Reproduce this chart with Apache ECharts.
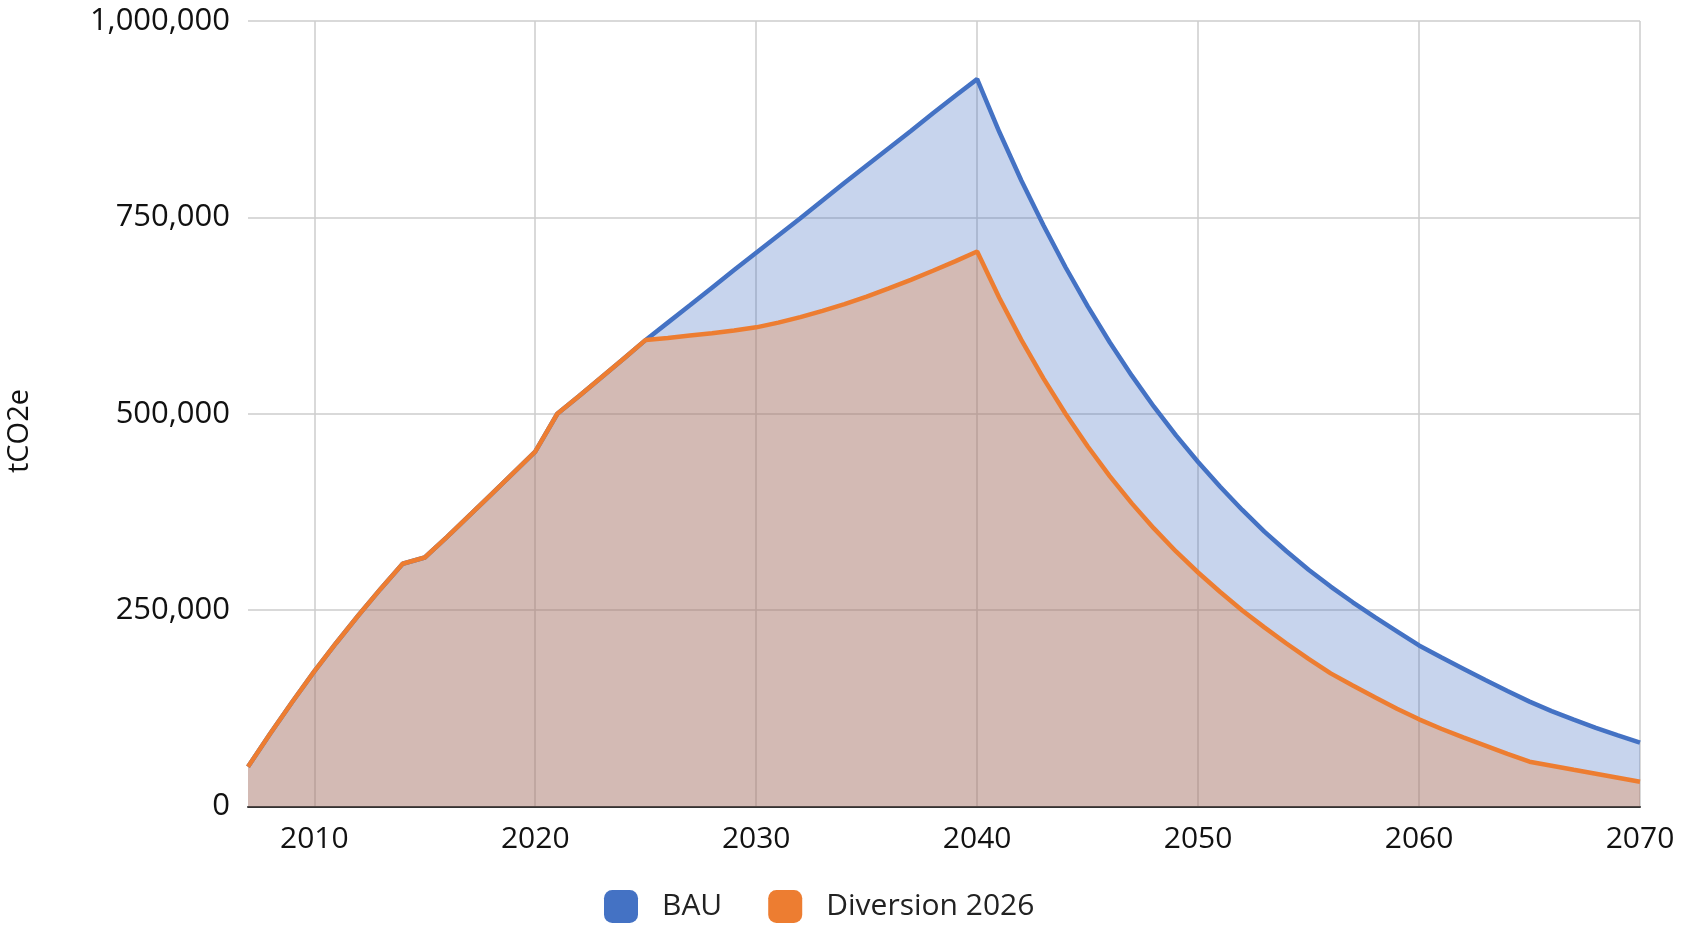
<!DOCTYPE html>
<html>
<head>
<meta charset="utf-8">
<script src="https://cdn.jsdelivr.net/npm/echarts@6/dist/echarts.min.js"></script>
<style>
html,body{margin:0;padding:0;background:#fff;}
#chart{width:1691px;height:930px;}
</style>
</head>
<body>
<div id="chart"></div>
<script>
const years = ['2007','2008','2009','2010','2011','2012','2013','2014','2015','2016',
  '2017','2018','2019','2020','2021','2022','2023','2024','2025','2026',
  '2027','2028','2029','2030','2031','2032','2033','2034','2035','2036',
  '2037','2038','2039','2040','2041','2042','2043','2044','2045','2046',
  '2047','2048','2049','2050','2051','2052','2053','2054','2055','2056',
  '2057','2058','2059','2060','2061','2062','2063','2064','2065','2066',
  '2067','2068','2069','2070'];

const bau = [50700,92500,133000,172000,208500,243500,277000,309000,317000,343000,
  370000,397000,424500,451700,500000,523000,546500,570000,594000,616000,
  638000,660500,683000,705000,727000,749000,771500,794000,816000,838000,
  860000,882500,904500,926000,859000,797000,740000,686500,637000,591000,
  548500,509000,472500,438500,407000,377500,350000,325000,301500,280000,
  260000,241000,223000,205000,190000,175500,161000,147000,133500,121500,
  110500,100000,90500,81300];

const diversion2026 = [50700,92500,133000,172000,208500,243500,277000,309000,317000,343000,
  370000,397000,424500,451700,500000,523000,546500,570000,594000,596500,
  599500,602500,606000,610000,616000,623000,631000,639500,649000,659500,
  670500,682000,694000,706500,647600,594000,545000,500000,458600,420700,
  385900,354000,324700,297900,273000,249500,228000,207500,188000,169500,
  154000,139000,124500,111000,99000,88000,77500,67000,57000,51900,
  46800,41800,36700,31600];

const yTicks = [0, 250000, 500000, 750000, 1000000];
const seriesNames = ['BAU', 'Diversion 2026'];

const BLUE = '#4472C4', ORANGE = '#ED7D31';
const FONT = '"Open Sans", "Noto Sans", sans-serif';

const chart = echarts.init(document.getElementById('chart'), null, {renderer: 'canvas'});
chart.setOption({
  animation: false,
  backgroundColor: '#fff',
  grid: {left: 248, right: 51, top: 21, bottom: 123.5, containLabel: false},
  xAxis: {
    type: 'category',
    data: years,
    boundaryGap: false,
    axisLine: {show: true, lineStyle: {color: '#333', width: 2}},
    axisTick: {show: false},
    axisLabel: {
      interval: function (i, v) { return Number(v) % 10 === 0; },
      color: '#111', fontFamily: FONT, fontSize: 30, margin: 18
    },
    splitLine: {
      show: true,
      interval: function (i, v) { return Number(v) % 10 === 0; },
      lineStyle: {color: '#cccccc', width: 1.5}
    }
  },
  yAxis: {
    type: 'value',
    min: yTicks[0], max: yTicks[yTicks.length - 1], interval: yTicks[1] - yTicks[0],
    axisLine: {show: false},
    axisTick: {show: false},
    axisLabel: {
      color: '#111', fontFamily: FONT, fontSize: 31, margin: 18,
      formatter: function (v) { return v.toLocaleString('en-US'); }
    },
    splitLine: {lineStyle: {color: '#cccccc', width: 1.5}}
  },
  legend: {
    data: [{name: seriesNames[0], icon: 'roundRect'}, {name: seriesNames[1], icon: 'roundRect'}],
    left: 599, top: 885,
    itemWidth: 34, itemHeight: 33, itemGap: 46,
    textStyle: {color: '#222', fontFamily: FONT, fontSize: 30, padding: [0, 0, 0, 19]}
  },
  graphic: [{
    type: 'text', left: 5, top: 389,
    rotation: Math.PI / 2,
    style: {text: 'tCO2e', fill: '#111', font: '29px ' + FONT}
  }],
  series: [
    {
      name: seriesNames[0], type: 'line', data: bau, showSymbol: false, symbol: 'none',
      itemStyle: {color: BLUE},
      lineStyle: {color: BLUE, width: 4.5},
      areaStyle: {color: BLUE, opacity: 0.3}
    },
    {
      name: seriesNames[1], type: 'line', data: diversion2026, showSymbol: false, symbol: 'none',
      itemStyle: {color: ORANGE},
      lineStyle: {color: ORANGE, width: 4.5},
      areaStyle: {color: ORANGE, opacity: 0.3}
    }
  ]
});
</script>
</body>
</html>
